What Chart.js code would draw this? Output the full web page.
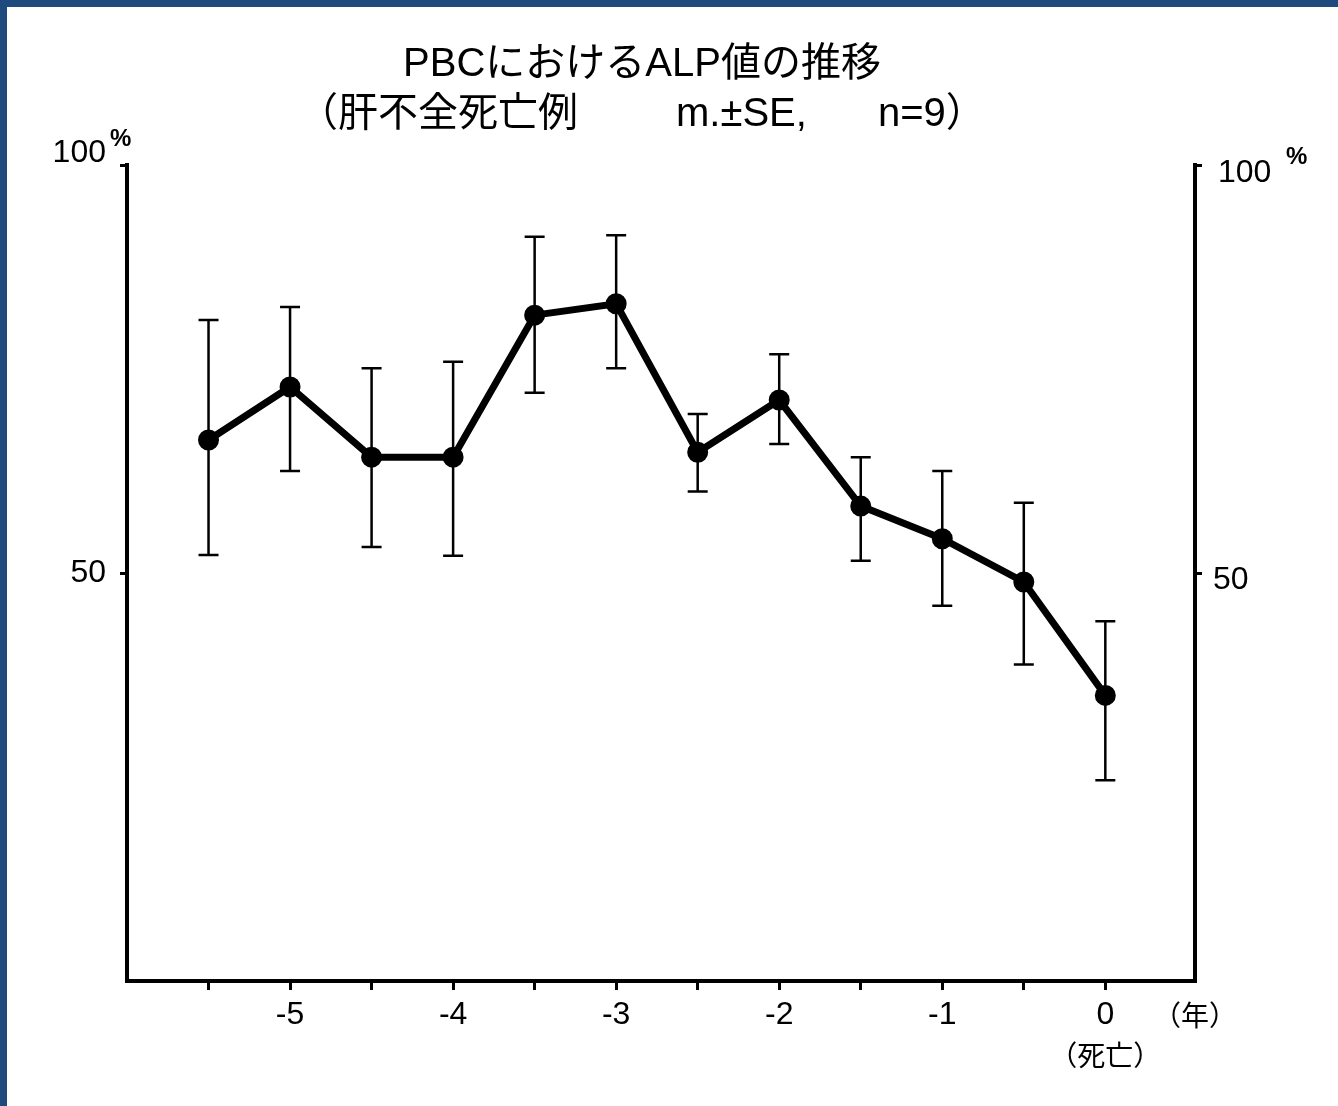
<!DOCTYPE html>
<html>
<head>
<meta charset="utf-8">
<script src="https://cdn.jsdelivr.net/npm/chart.js@4"></script>
<style>
    html, body { margin: 0; padding: 0; background: #fff; }
    #wrap { position: relative; width: 1338px; height: 1106px; overflow: hidden; }
    #frameTop { position: absolute; left: 0; top: 0; width: 1338px; height: 7px; background: #1f4a7d; }
    #frameLeft { position: absolute; left: 0; top: 0; width: 7px; height: 1106px; background: #1f4a7d; }
    canvas { position: absolute; left: 0; top: 0; }
</style>
</head>
<body>
<div id="wrap">
    <canvas id="alpChart" width="1338" height="1106"></canvas>
    <div id="frameTop"></div>
    <div id="frameLeft"></div>
</div>
<script>
// ---- data ----
var years = [-5.5, -5, -4.5, -4, -3.5, -3, -2.5, -2, -1.5, -1, -0.5, 0];
var alpMean = [66.3, 72.8, 64.2, 64.2, 81.6, 83.0, 64.8, 71.2, 58.2, 54.2, 48.9, 35.0];
var alpUpper = [81.0, 82.6, 75.1, 75.9, 91.2, 91.4, 69.5, 76.8, 64.2, 62.5, 58.6, 44.1];
var alpLower = [52.2, 62.5, 53.2, 52.1, 72.1, 75.1, 60.0, 65.8, 51.5, 46.0, 38.8, 24.6];
var xTicks = [-5.5, -5, -4.5, -4, -3.5, -3, -2.5, -2, -1.5, -1, -0.5, 0];
var yTicks = [50, 100];

var titleLine1 = 'PBCにおけるALP値の推移';
var titleLine2 = ['（肝不全死亡例', 'm.±SE,', 'n=9）'];

var FONT = "'Liberation Sans', 'Noto Sans CJK JP', sans-serif";

// error bars drawn through the scales
var errorBars = {
    id: 'errorBars',
    afterDatasetsDraw: function (chart) {
        var ctx = chart.ctx;
        var xs = chart.scales.x, ys = chart.scales.y;
        ctx.save();
        ctx.strokeStyle = '#000';
        ctx.lineWidth = 2.5;
        for (var i = 0; i < years.length; i++) {
            var px = xs.getPixelForValue(years[i]);
            var top = ys.getPixelForValue(alpUpper[i]);
            var bot = ys.getPixelForValue(alpLower[i]);
            ctx.beginPath();
            ctx.moveTo(px, top); ctx.lineTo(px, bot);
            ctx.moveTo(px - 10, top); ctx.lineTo(px + 10, top);
            ctx.moveTo(px - 10, bot); ctx.lineTo(px + 10, bot);
            ctx.stroke();
        }
        ctx.restore();
    }
};

// titles, y labels and extra labels
var extraText = {
    id: 'extraText',
    afterDraw: function (chart) {
        var ctx = chart.ctx;
        var xs = chart.scales.x, ys = chart.scales.y;
        ctx.save();
        ctx.fillStyle = '#000';
        ctx.textBaseline = 'alphabetic';
        ctx.font = '40px ' + FONT;
        ctx.textAlign = 'center';
        ctx.fillText(titleLine1, 642, 76);
        ctx.textAlign = 'left';
        ctx.fillText(titleLine2[0], 298, 126);
        ctx.fillText(titleLine2[1], 676, 126);
        ctx.fillText(titleLine2[2], 878, 126);

        // y tick labels, left and right
        ctx.font = '32px ' + FONT;
        ctx.textBaseline = 'middle';
        ctx.textAlign = 'right';
        ctx.fillText('100', 106, ys.getPixelForValue(100) - 12);
        ctx.fillText('50', 106, ys.getPixelForValue(50));
        ctx.textAlign = 'left';
        ctx.fillText('100', 1218, ys.getPixelForValue(100) + 8);
        ctx.fillText('50', 1213, ys.getPixelForValue(50) + 7);

        // percent marks
        ctx.font = 'bold 24px ' + FONT;
        ctx.textBaseline = 'alphabetic';
        ctx.fillText('%', 110, 146);
        ctx.fillText('%', 1286, 164);

        // unit labels
        ctx.font = '28px ' + FONT;
        ctx.textAlign = 'center';
        ctx.fillText('（年）', 1195, 1026);
        ctx.fillText('（死亡）', xs.getPixelForValue(0), 1066);
        ctx.restore();
    }
};

var ctx = document.getElementById('alpChart');
new Chart(ctx, {
    type: 'line',
    data: {
        datasets: [{
            data: years.map(function (x, i) { return { x: x, y: alpMean[i] }; }),
            borderColor: '#000',
            borderWidth: 7,
            pointRadius: 7,
            pointBackgroundColor: '#000',
            pointBorderColor: '#000',
            tension: 0,
            fill: false
        }]
    },
    options: {
        responsive: false,
        animation: false,
        layout: { padding: { top: 165, left: 0, right: 0, bottom: 0 } },
        plugins: { legend: { display: false }, tooltip: { enabled: false } },
        scales: {
            x: {
                type: 'linear',
                min: -6,
                max: 0.55,
                afterBuildTicks: function (s) { s.ticks = xTicks.map(function (v) { return { value: v }; }); },
                afterFit: function (s) { s.height = 1106 - 981; },
                border: { color: '#000', width: 4 },
                grid: { drawOnChartArea: false, color: '#000', lineWidth: 3, tickLength: 9 },
                ticks: {
                    color: '#000',
                    padding: 6,
                    maxRotation: 0,
                    autoSkip: false,
                    font: { family: FONT, size: 32 },
                    callback: function (v) {
                        if (v % 1 !== 0) return '';
                        return v === 0 ? '0' : '-' + Math.abs(v);
                    }
                }
            },
            y: {
                position: 'left',
                min: 0,
                max: 100,
                afterBuildTicks: function (s) { s.ticks = yTicks.map(function (v) { return { value: v }; }); },
                afterFit: function (s) { s.width = 127; },
                border: { color: '#000', width: 4 },
                grid: { drawOnChartArea: false, color: '#000', lineWidth: 3, tickLength: 7 },
                ticks: { callback: function () { return ''; } }
            },
            y2: {
                position: 'right',
                min: 0,
                max: 100,
                afterBuildTicks: function (s) { s.ticks = yTicks.map(function (v) { return { value: v }; }); },
                afterFit: function (s) { s.width = 1338 - 1195; },
                border: { color: '#000', width: 4 },
                grid: { drawOnChartArea: false, color: '#000', lineWidth: 3, tickLength: 7 },
                ticks: { callback: function () { return ''; } }
            }
        }
    },
    plugins: [errorBars, extraText]
});
</script>
</body>
</html>
